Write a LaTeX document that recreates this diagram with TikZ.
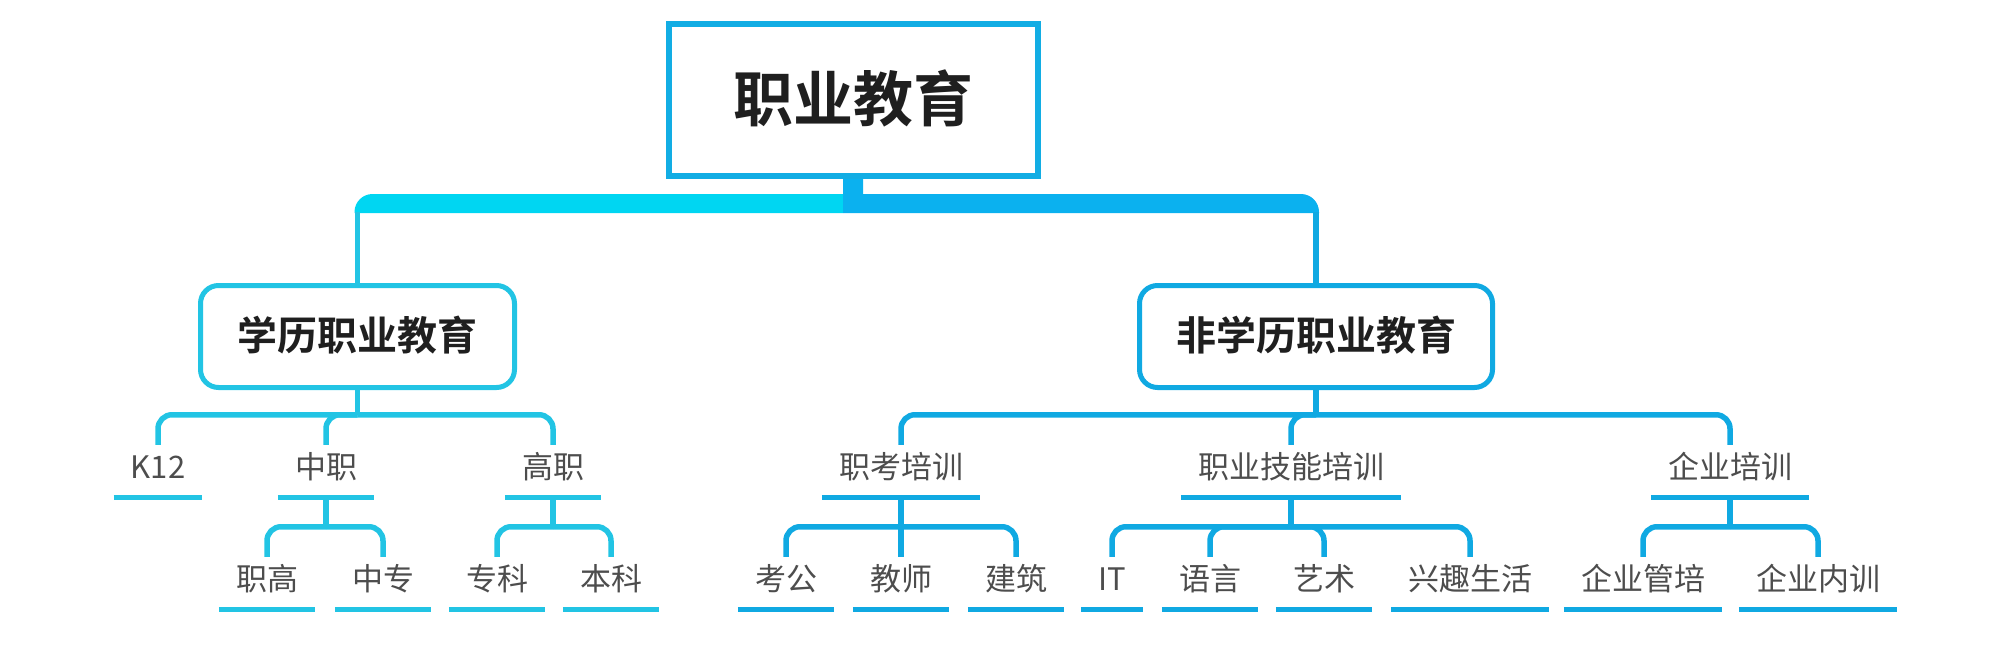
\documentclass[tikz,border=0pt]{standalone}
\usepackage{fontspec}
\setmainfont{Noto Sans CJK SC}[BoldFont={Noto Sans CJK SC Bold}]
\usetikzlibrary{calc}
\definecolor{cyanL}{HTML}{22C4E4}
\definecolor{blueR}{HTML}{10A9E2}
\definecolor{cyanbar}{HTML}{00D6F2}
\definecolor{bluebar}{HTML}{0BB1EF}
\definecolor{rootblue}{HTML}{12ADE4}
\definecolor{leafgray}{HTML}{4D4D4D}
\tikzset{
  rootbox/.style={draw=rootblue, line width=6pt, fill=white, minimum width=369pt, minimum height=152pt,
    font=\fontsize{60}{60}\selectfont\bfseries, text=black!88, text height=48pt, text depth=4.8pt},
  catbox/.style={line width=5pt, rounded corners=18pt, fill=white, minimum height=102pt,
    font=\fontsize{40}{40}\selectfont\bfseries, text=black!88, text height=32pt, text depth=3.2pt},
  leaf/.style={font=\fontsize{31}{31}\selectfont, text=leafgray, inner xsep=17pt, inner ysep=8.4pt,
    text height=24.8pt, text depth=2.5pt},
  lnL/.style={draw=cyanL, line width=5.5pt, rounded corners=14pt},
  lnR/.style={draw=blueR, line width=5.5pt, rounded corners=14pt},
  ulL/.style={draw=cyanL, line width=4.5pt},
  ulR/.style={draw=blueR, line width=4.5pt}
}
\begin{document}
\begin{tikzpicture}[x=1pt, y=1pt]
  \useasboundingbox (0,0) rectangle (2002,-650);

  %%%%% boxes %%%%%
  \node[rootbox] (root) at (853,-100) {职业教育};
  \node[catbox, draw=cyanL, minimum width=314pt] (edu) at (357.5,-336.5) {学历职业教育};
  \node[catbox, draw=blueR, minimum width=353pt] (nonedu) at (1316,-336.5) {非学历职业教育};

  %%%%% level 3 %%%%%
  \node[leaf] (k12) at (158,-467) {K12};
  \node[leaf] (zhongzhi) at (326,-467) {中职};
  \node[leaf] (gaozhi) at (553,-467) {高职};
  \node[leaf] (zkpx) at (901,-467) {职考培训};
  \node[leaf] (zyjn) at (1291,-467) {职业技能培训};
  \node[leaf] (qypx) at (1730,-467) {企业培训};

  %%%%% level 4 %%%%%
  \node[leaf] (zhigao) at (267,-579) {职高};
  \node[leaf] (zhongzhuan) at (383,-579) {中专};
  \node[leaf] (zhuanke) at (497,-579) {专科};
  \node[leaf] (benke) at (611,-579) {本科};
  \node[leaf] (kaogong) at (786,-579) {考公};
  \node[leaf] (jiaoshi) at (901,-579) {教师};
  \node[leaf] (jianzhu) at (1016,-579) {建筑};
  \node[leaf] (it) at (1112,-579) {IT};
  \node[leaf] (yuyan) at (1210,-579) {语言};
  \node[leaf] (yishu) at (1324,-579) {艺术};
  \node[leaf] (xingqu) at (1470,-579) {兴趣生活};
  \node[leaf] (guanpei) at (1643,-579) {企业管培};
  \node[leaf] (neixun) at (1818,-579) {企业内训};

  %%%%% trunk %%%%%
  \fill[cyanbar] ([xshift=-10pt]root.south |- 0,-194) -- ([xshift=15pt]edu.north |- 0,-194)
    arc[start angle=90, end angle=180, radius=18pt] -- ([xshift=-3pt]edu.north |- 0,-213)
    -- ([xshift=-10pt]root.south |- 0,-213) -- cycle;
  \fill[bluebar] ([xshift=-10pt]root.south) -- ([xshift=10pt]root.south)
    -- ([xshift=10pt]root.south |- 0,-194) -- ([xshift=-15pt]nonedu.north |- 0,-194)
    arc[start angle=90, end angle=0, radius=18pt] -- ([xshift=3pt]nonedu.north |- 0,-213)
    -- ([xshift=-10pt]root.south |- 0,-213) -- cycle;
  \draw[lnL] (edu.north |- 0,-212) -- (edu.north);
  \draw[lnR] (nonedu.north |- 0,-212) -- (nonedu.north);

  %%%%% branches %%%%%
  \draw[lnL] (edu.south) -- ([yshift=30pt]k12.north -| edu.south);
  \foreach \c in {k12,zhongzhi,gaozhi}
    \draw[lnL] ([yshift=30pt]\c.north -| edu.south) -| (\c.north);
  \draw[lnR] (nonedu.south) -- ([yshift=30pt]zkpx.north -| nonedu.south);
  \foreach \c in {zkpx,zyjn,qypx}
    \draw[lnR] ([yshift=30pt]\c.north -| nonedu.south) -| (\c.north);

  \draw[lnL] ([yshift=-8pt]zhongzhi.south) -- ([yshift=30pt]zhigao.north -| zhongzhi.south);
  \foreach \c in {zhigao,zhongzhuan}
    \draw[lnL] ([yshift=30pt]\c.north -| zhongzhi.south) -| (\c.north);
  \draw[lnL] ([yshift=-8pt]gaozhi.south) -- ([yshift=30pt]zhuanke.north -| gaozhi.south);
  \foreach \c in {zhuanke,benke}
    \draw[lnL] ([yshift=30pt]\c.north -| gaozhi.south) -| (\c.north);
  \draw[lnR] ([yshift=-8pt]zkpx.south) -- (jiaoshi.north);
  \foreach \c in {kaogong,jianzhu}
    \draw[lnR] ([yshift=30pt]\c.north -| zkpx.south) -| (\c.north);
  \draw[lnR] ([yshift=-8pt]zyjn.south) -- ([yshift=30pt]it.north -| zyjn.south);
  \foreach \c in {it,yuyan,yishu,xingqu}
    \draw[lnR] ([yshift=30pt]\c.north -| zyjn.south) -| (\c.north);
  \draw[lnR] ([yshift=-8pt]qypx.south) -- ([yshift=30pt]guanpei.north -| qypx.south);
  \foreach \c in {guanpei,neixun}
    \draw[lnR] ([yshift=30pt]\c.north -| qypx.south) -| (\c.north);

  %%%%% underlines %%%%%
  \foreach \n in {k12,zhongzhi,gaozhi,zhigao,zhongzhuan,zhuanke,benke}
    \draw[ulL] ([yshift=-8pt]\n.south west) -- ([yshift=-8pt]\n.south east);
  \foreach \n in {zkpx,zyjn,qypx,kaogong,jiaoshi,jianzhu,it,yuyan,yishu,xingqu,guanpei,neixun}
    \draw[ulR] ([yshift=-8pt]\n.south west) -- ([yshift=-8pt]\n.south east);
\end{tikzpicture}
\end{document}
